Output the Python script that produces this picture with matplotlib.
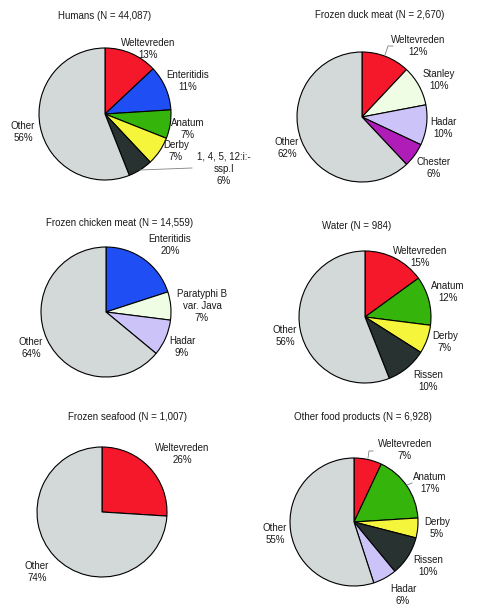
import matplotlib
matplotlib.use("Agg")
import matplotlib.pyplot as plt

plt.rcParams["font.family"] = ["Liberation Sans", "DejaVu Sans"]

# ---- data (percent of isolates, clockwise from 12 o'clock) ----
humans_names = ["Weltevreden", "Enteritidis", "Anatum", "Derby", "1, 4, 5, 12:i:-\nssp.I", "Other"]
humans_vals = [13, 11, 7, 7, 6, 56]

duck_names = ["Weltevreden", "Stanley", "Hadar", "Chester", "Other"]
duck_vals = [12, 10, 10, 6, 62]

chicken_names = ["Enteritidis", "Paratyphi B\nvar. Java", "Hadar", "Other"]
chicken_vals = [20, 7, 9, 64]

water_names = ["Weltevreden", "Anatum", "Derby", "Rissen", "Other"]
water_vals = [15, 12, 7, 10, 56]

seafood_names = ["Weltevreden", "Other"]
seafood_vals = [26, 74]

otherfood_names = ["Weltevreden", "Anatum", "Derby", "Rissen", "Hadar", "Other"]
otherfood_vals = [7, 17, 5, 10, 6, 55]

titles = ["Humans (N = 44,087)", "Frozen duck meat (N = 2,670)",
          "Frozen chicken meat (N = 14,559)", "Water (N = 984)",
          "Frozen seafood (N = 1,007)", "Other food products (N = 6,928)"]

# ---- styling ----
COLORS = {
    "Weltevreden": "#f5182a",
    "Enteritidis": "#1f4ef5",
    "Anatum": "#35b50c",
    "Derby": "#f5f53b",
    "1, 4, 5, 12:i:-\nssp.I": "#283331",
    "Rissen": "#283331",
    "Other": "#d3d9d9",
    "Stanley": "#eefde3",
    "Paratyphi B\nvar. Java": "#eefde3",
    "Hadar": "#ccc4f9",
    "Chester": "#b01cb8",
}

W, H = 480, 613
FS = 7

fig = plt.figure(figsize=(W / 100, H / 100), dpi=100)
ax = fig.add_axes([0, 0, 1, 1])
ax.set_xlim(0, W)
ax.set_ylim(0, H)
ax.set_aspect("equal")
ax.axis("off")


def Y(py):
    return H - py


# pie centre / radius in pixels, title position, label positions
panels = [
    (humans_names, humans_vals, (105, 114), 66, (105, 16),
     [(148, 49), (188, 81), (188, 129), (176, 151), (224, 169), (23, 132)]),
    (duck_names, duck_vals, (362, 117), 65, (380, 15),
     [(418, 46), (439, 80), (443, 128), (434, 168), (287, 148)]),
    (chicken_names, chicken_vals, (106, 312), 65, (120, 223),
     [(170, 245), (202, 306), (182, 347), (31, 348)]),
    (water_names, water_vals, (365, 317), 66, (357, 226),
     [(420, 257), (448, 292), (445, 342), (428, 381), (285, 336)]),
    (seafood_names, seafood_vals, (102, 512), 65, (127, 417),
     [(182, 454), (37, 572)]),
    (otherfood_names, otherfood_vals, (354, 522), 64, (363, 417),
     [(405, 450), (430, 483), (437, 528), (428, 566), (403, 595), (275, 534)]),
]

for (names, vals, (cx, cy), r, (tx, ty), lpos), title in zip(panels, titles):
    ax.pie(vals, colors=[COLORS[n] for n in names], startangle=90,
           counterclock=False, center=(cx, Y(cy)), radius=r,
           wedgeprops=dict(edgecolor="black", linewidth=0.8))
    ax.text(tx, Y(ty), title, ha="center", va="center", fontsize=FS,
            color="#1a1a1a")
    for n, v, (lx, ly) in zip(names, vals, lpos):
        ax.text(lx, Y(ly), f"{n}\n{v}%", ha="center", va="center",
                multialignment="center", fontsize=FS, linespacing=1.3,
                color="#1a1a1a")

# leader lines
lc = dict(color="#808080", lw=0.6)
ax.plot([140, 192], [Y(170), Y(168)], **lc)
ax.plot([385, 388, 393], [Y(55), Y(46), Y(46)], **lc)
ax.plot([368, 369, 373], [Y(458), Y(451), Y(451)], **lc)
ax.plot([407, 412], [Y(485), Y(483)], **lc)

ax.set_xlim(0, W)
ax.set_ylim(0, H)
fig.savefig("out.png", dpi=100)
